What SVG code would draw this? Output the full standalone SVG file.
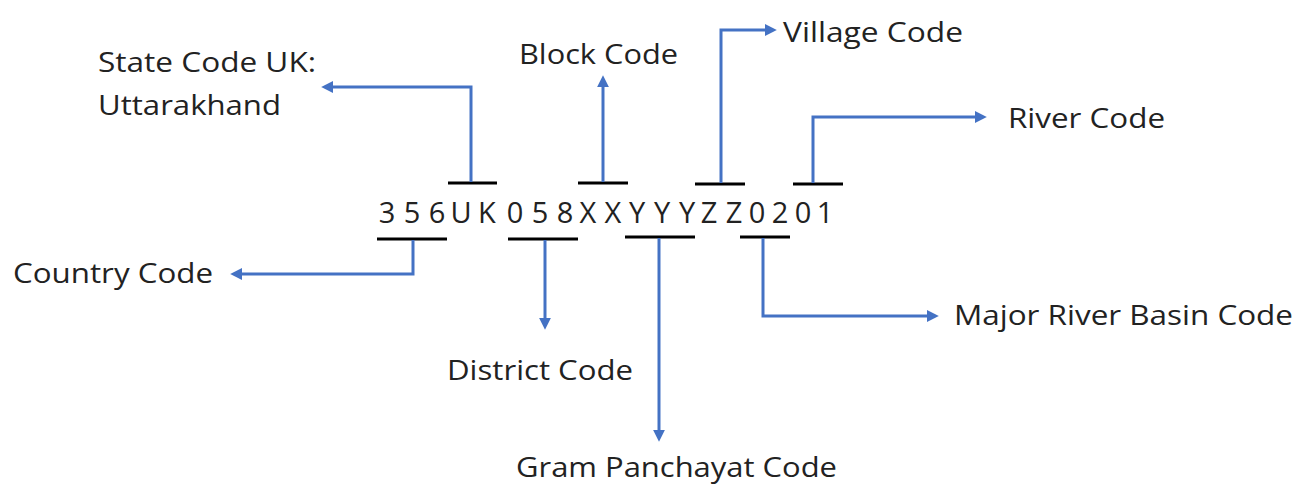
<svg xmlns="http://www.w3.org/2000/svg" width="1296" height="484" viewBox="0 0 1296 484">
<style>
.lbl{font-family:"Open Sans","Noto Sans","Liberation Sans",sans-serif;font-size:28px;fill:#222}
.code{font-family:"Open Sans","Noto Sans","Liberation Sans",sans-serif;font-size:29px;fill:#222}
.bar{stroke:#000;stroke-width:3;fill:none}
.con{stroke:#4472C4;stroke-width:3;fill:none;marker-end:url(#arr)}
</style>
<defs>
<marker id="arr" markerUnits="userSpaceOnUse" markerWidth="12" markerHeight="12" refX="1" refY="5" orient="auto" viewBox="0 0 10 10">
<path d="M0,0 L10,5 L0,10 z" fill="#4472C4"/>
</marker>
</defs>
<rect width="1296" height="484" fill="#fff"/>
<g id="code">
<text class="code" text-anchor="middle" y="223" x="387 412 437 461 487 515 540 565 588 613 637 662 687 709 734 757 780 803 825">356UK058XXYYYZZ0201</text>
</g>
<g id="bars">
<line class="bar" x1="448" y1="183" x2="497" y2="183"/>
<line class="bar" x1="578" y1="183" x2="628" y2="183"/>
<line class="bar" x1="695" y1="184" x2="745" y2="184"/>
<line class="bar" x1="793" y1="184" x2="843" y2="184"/>
<line class="bar" x1="377" y1="239" x2="447" y2="239"/>
<line class="bar" x1="508" y1="239" x2="578" y2="239"/>
<line class="bar" x1="625" y1="237" x2="695" y2="237"/>
<line class="bar" x1="740" y1="237" x2="790" y2="237"/>
</g>
<g id="connectors">
<path class="con" d="M471,182 V87 H332"/>
<path class="con" d="M603,182 V86"/>
<path class="con" d="M721,183 V30 H766"/>
<path class="con" d="M813,183 V117 H976"/>
<path class="con" d="M413,240 V274 H241"/>
<path class="con" d="M545,240 V319"/>
<path class="con" d="M659,238 V431"/>
<path class="con" d="M763,238 V316 H928"/>
</g>
<g id="state"><text class="lbl" x="98" y="72" textLength="218" lengthAdjust="spacingAndGlyphs">State Code UK:</text><text class="lbl" x="98" y="115" textLength="183" lengthAdjust="spacingAndGlyphs">Uttarakhand</text></g>
<g id="block"><text class="lbl" x="519" y="64" textLength="159" lengthAdjust="spacingAndGlyphs">Block Code</text></g>
<g id="village"><text class="lbl" x="783" y="42" textLength="180" lengthAdjust="spacingAndGlyphs">Village Code</text></g>
<g id="river"><text class="lbl" x="1008" y="128" textLength="157" lengthAdjust="spacingAndGlyphs">River Code</text></g>
<g id="country"><text class="lbl" x="13" y="283" textLength="200" lengthAdjust="spacingAndGlyphs">Country Code</text></g>
<g id="district"><text class="lbl" x="447" y="380" textLength="186" lengthAdjust="spacingAndGlyphs">District Code</text></g>
<g id="gram"><text class="lbl" x="516" y="477" textLength="321" lengthAdjust="spacingAndGlyphs">Gram Panchayat Code</text></g>
<g id="basin"><text class="lbl" x="954" y="325" textLength="339" lengthAdjust="spacingAndGlyphs">Major River Basin Code</text></g>
</svg>
